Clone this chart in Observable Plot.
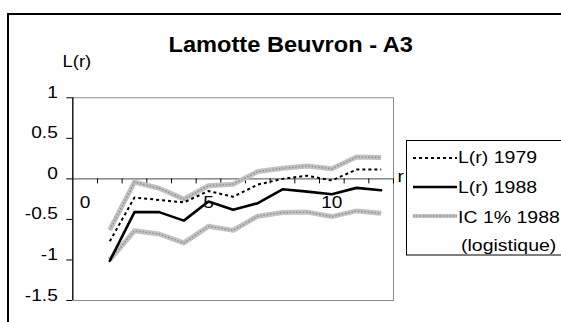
<!DOCTYPE html>
<html>
<head>
<meta charset="utf-8">
<script src="https://cdn.jsdelivr.net/npm/d3@7"></script>
<script src="https://cdn.jsdelivr.net/npm/@observablehq/plot@0.6"></script>
<style>
  html, body { margin: 0; padding: 0; background: #fff; }
  #wrap { position: relative; width: 561px; height: 322px; overflow: hidden; background: #fff; font-family: "Liberation Sans", Arial, sans-serif; }
  #border { position: absolute; left: 7px; top: 12.5px; width: 700px; height: 500px; border: 2px solid #000; box-sizing: border-box; }
  #chart, #overlay { position: absolute; left: 0; top: 0; }
</style>
</head>
<body>
<div id="wrap">
  <div id="border"></div>
  <div id="chart"></div>
  <svg id="overlay" width="561" height="322"></svg>
</div>
<script>
// ---- data ----
const title = "Lamotte Beuvron - A3";
const yTitle = "L(r)";
const xTitle = "r";
const r = [1, 2, 3, 4, 5, 6, 7, 8, 9, 10, 11, 12];
const L1979 = [-0.77, -0.23, -0.26, -0.29, -0.15, -0.22, -0.07, 0.0, 0.04, -0.02, 0.115, 0.115];
const L1988 = [-1.01, -0.41, -0.41, -0.515, -0.28, -0.38, -0.30, -0.128, -0.157, -0.19, -0.111, -0.14];
const IC_hi = [-0.63, -0.04, -0.115, -0.25, -0.085, -0.065, 0.09, 0.13, 0.16, 0.125, 0.27, 0.265];
const IC_lo = [-1.0, -0.64, -0.68, -0.79, -0.585, -0.635, -0.46, -0.415, -0.41, -0.465, -0.395, -0.425];
const categories = d3.range(0, 13);          // category axis 0..12
const xTickLabels = [0, 5, 10];
const yTicks = [1, 0.5, 0, -0.5, -1, -1.5];
const legendLabels = ["L(r) 1979", "L(r) 1988", "IC 1% 1988", "(logistique)"];

const rows = r.map((v, i) => ({r: v, l79: L1979[i], l88: L1988[i], hi: IC_hi[i], lo: IC_lo[i]}));
const cx = d => d.r + 0.5;   // category centre

const W = 561, H = 322;
const mL = 72.3, mT = 97.3, mR = 168, mB = 22;
const pxPerUnit = (H - mB - mT) / 2.5;
const tickLen = 5 / pxPerUnit;
const bounds = d3.range(1, categories.length + 1);
const FS = 16.5;       // label font size
const SX = 1.16;       // horizontal stretch of the original's text

const grayBase = {stroke: "#c2c2c2", strokeWidth: 5, strokeLinecap: "butt", strokeLinejoin: "round"};
const grayTex = {stroke: "#8e8e8e", strokeWidth: 1.4, strokeDasharray: "1.5,1.8", strokeLinecap: "butt"};

const plot = Plot.plot({
  width: W, height: H,
  marginLeft: mL, marginTop: mT, marginRight: mR, marginBottom: mB,
  style: {fontFamily: "'Liberation Sans', Arial, sans-serif", fontSize: FS + "px", color: "#000", background: "transparent", overflow: "visible"},
  x: {domain: [0, categories.length], axis: null},
  y: {domain: [-1.5, 1], axis: null},
  marks: [
    Plot.frame({stroke: "#8c8c8c"}),
    Plot.axisY({ticks: yTicks, tickSize: 6, tickPadding: 9, tickFormat: d => String(d), fontSize: FS, label: null, stroke: "#000"}),
    Plot.ruleY([0], {stroke: "#6e6e6e", strokeWidth: 1.4}),
    Plot.ruleX(bounds, {x: d => d, y1: 0, y2: -tickLen, stroke: "#000", strokeWidth: 1}),
    Plot.ruleX([0], {stroke: "#000", strokeWidth: 1.2}),
    Plot.text(xTickLabels, {x: d => d + 0.5, y: 0, dy: 29, text: d => String(d), fontSize: FS, fill: "#000"}),
    Plot.text([xTitle], {x: categories.length, y: 0, dx: 4, dy: 3, textAnchor: "start", fontSize: FS, fill: "#000"}),
    Plot.line(rows, {x: cx, y: "hi", ...grayBase}),
    Plot.line(rows, {x: cx, y: "hi", ...grayTex}),
    Plot.line(rows, {x: cx, y: "lo", ...grayBase}),
    Plot.line(rows, {x: cx, y: "lo", ...grayTex}),
    Plot.line(rows, {x: cx, y: "l79", stroke: "#000", strokeWidth: 2, strokeDasharray: "3,3", strokeLinecap: "butt"}),
    Plot.line(rows, {x: cx, y: "l88", stroke: "#000", strokeWidth: 2.6, strokeLinejoin: "miter"})
  ]
});
// stretch text horizontally about its anchor, like the original picture
plot.querySelectorAll("text").forEach(t => {
  let tr = t.getAttribute("transform") || "";
  const x = t.getAttribute("x"), y = t.getAttribute("y");
  if (x != null || y != null) {
    tr += ` translate(${+x || 0},${+y || 0})`;
    t.removeAttribute("x"); t.removeAttribute("y");
  }
  t.setAttribute("transform", (tr + ` scale(${SX},1)`).trim());
});
document.getElementById("chart").appendChild(plot);

// ---- title, axis title, legend ----
const ov = d3.select("#overlay").style("font-family", "'Liberation Sans', Arial, sans-serif");
function label(sel, x, y, txt, size, sx, opts = {}) {
  const t = sel.append("text").attr("transform", `translate(${x},${y}) scale(${sx},1)`)
    .attr("font-size", size).text(txt);
  if (opts.anchor) t.attr("text-anchor", opts.anchor);
  if (opts.bold) t.attr("font-weight", "bold");
  return t;
}
label(ov, 290.7, 52, title, 22.5, 1.05, {anchor: "middle", bold: true});
label(ov, 62.5, 67, yTitle, 16.8, 1.1);

const lg = ov.append("g");
lg.append("rect").attr("x", 406.5).attr("y", 140.5).attr("width", 200).attr("height", 114.5)
  .attr("fill", "#fff").attr("stroke", "#000").attr("stroke-width", 1);
const sx1 = 413, sx2 = 457, tx = 458;
const sampleY = [158, 187, 216];
const baseY = [163, 193, 223, 250.5];
lg.append("line").attr("x1", sx1).attr("x2", sx2).attr("y1", sampleY[0]).attr("y2", sampleY[0])
  .attr("stroke", "#000").attr("stroke-width", 2).attr("stroke-dasharray", "3,3");
lg.append("line").attr("x1", sx1).attr("x2", sx2).attr("y1", sampleY[1]).attr("y2", sampleY[1])
  .attr("stroke", "#000").attr("stroke-width", 2.6);
lg.append("line").attr("x1", sx1).attr("x2", sx2).attr("y1", sampleY[2]).attr("y2", sampleY[2])
  .attr("stroke", grayBase.stroke).attr("stroke-width", 4);
lg.append("line").attr("x1", sx1).attr("x2", sx2).attr("y1", sampleY[2]).attr("y2", sampleY[2])
  .attr("stroke", grayTex.stroke).attr("stroke-width", 1.4).attr("stroke-dasharray", grayTex.strokeDasharray);
legendLabels.forEach((t, i) => {
  label(lg, i === 3 ? tx + 3 : tx, baseY[i], t, 16.8, SX);
});
</script>
</body>
</html>
